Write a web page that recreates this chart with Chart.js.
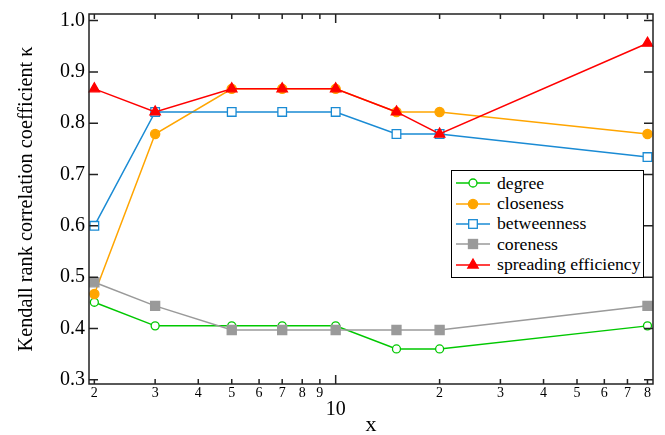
<!DOCTYPE html>
<html><head><meta charset="utf-8">
<script src="https://cdn.jsdelivr.net/npm/chart.js@4.4.0/dist/chart.umd.min.js"></script>
<style>
html,body{margin:0;padding:0;background:#fff;}
#wrap{position:relative;width:665px;height:435px;}
#legend{position:absolute;left:451px;top:170px;width:193px;height:108px;border:1px solid #000;background:#fff;box-sizing:border-box;font-family:'Liberation Serif';font-size:17.7px;color:#000;padding-top:2px;}
.row{height:20.4px;display:flex;align-items:center;white-space:nowrap;}
.row svg{margin-left:4px;margin-right:7px;flex:none;}
</style></head>
<body><div id="wrap"><canvas id="c" width="665" height="435"></canvas><div id="legend"></div></div>
<script>
const xValues = [2, 3, 5, 7, 10, 15, 20, 80];
const degree = [0.451, 0.405, 0.405, 0.405, 0.405, 0.36, 0.36, 0.405];
const closeness = [0.467, 0.779, 0.867, 0.867, 0.867, 0.822, 0.822, 0.779];
const betweenness = [0.6, 0.822, 0.822, 0.822, 0.822, 0.779, 0.779, 0.734];
const coreness = [0.49, 0.444, 0.397, 0.397, 0.397, 0.397, 0.397, 0.444];
const spreading = [0.867, 0.822, 0.867, 0.867, 0.867, 0.822, 0.779, 0.956];
const seriesNames = ['degree', 'closeness', 'betweenness', 'coreness', 'spreading efficiency'];
const xTicks = [2, 3, 4, 5, 6, 7, 8, 9, 10, 20, 30, 40, 50, 60, 70, 80];
const xTickLabels = ['2', '3', '4', '5', '6', '7', '8', '9', '10', '2', '3', '4', '5', '6', '7', '8'];
const yTicks = [0.3, 0.4, 0.5, 0.6, 0.7, 0.8, 0.9, 1.0];
const yTickLabels = ['0.3', '0.4', '0.5', '0.6', '0.7', '0.8', '0.9', '1.0'];

const FAM = "'Liberation Serif'";
const styles = [
  {color:'#00c800', pointStyle:'circle', radius:4, fill:'#ffffff', order:4},
  {color:'#ffa500', pointStyle:'circle', radius:4.6, fill:'#ffa500', order:3},
  {color:'#1a8bd4', pointStyle:'rect', radius:6.1, fill:'#ffffff', order:2},
  {color:'#9a9a9a', pointStyle:'rect', radius:6.4, fill:'#9a9a9a', order:1},
  {color:'#ff0000', pointStyle:'triangle', radius:6, fill:'#ff0000', order:0}
];
const allSeries = [degree, closeness, betweenness, coreness, spreading];

const datasets = allSeries.map((vals, k) => ({
  label: seriesNames[k],
  data: xValues.map((x, i) => ({x: x, y: vals[i]})),
  borderColor: styles[k].color,
  backgroundColor: styles[k].fill,
  pointBackgroundColor: styles[k].fill,
  pointBorderColor: styles[k].color,
  pointStyle: styles[k].pointStyle,
  pointRadius: styles[k].radius,
  pointBorderWidth: 1.3,
  borderWidth: 1.5,
  tension: 0,
  fill: false,
  clip: false,
  order: styles[k].order
}));

const framePlugin = {
  id: 'frame',
  afterDatasetsDraw(chart) {
    const {ctx, chartArea: a, scales: {x, y}} = chart;
    ctx.save();
    ctx.strokeStyle = '#222';
    ctx.lineWidth = 1.5;
    ctx.strokeRect(a.left, a.top, a.right - a.left, a.bottom - a.top);
    ctx.beginPath();
    x.ticks.forEach(t => {
      const px = x.getPixelForValue(t.value);
      const L = t.value === 10 ? 9 : 5;
      ctx.moveTo(px, a.bottom); ctx.lineTo(px, a.bottom - L);
      ctx.moveTo(px, a.top); ctx.lineTo(px, a.top + L);
    });
    y.ticks.forEach(t => {
      const py = y.getPixelForValue(t.value);
      ctx.moveTo(a.left, py); ctx.lineTo(a.left + 9, py);
      ctx.moveTo(a.right, py); ctx.lineTo(a.right - 9, py);
    });
    ctx.stroke();
    ctx.restore();
  }
};

const chart = new Chart(document.getElementById('c'), {
  type: 'line',
  data: {datasets: datasets},
  options: {
    responsive: false,
    animation: false,
    events: [],
    layout: {padding: {top: 10, right: 12, left: 0, bottom: 0}},
    plugins: {legend: {display: false}, tooltip: {enabled: false}},
    scales: {
      x: {
        type: 'logarithmic', min: 1.93, max: 83,
        afterBuildTicks: s => { s.ticks = xTicks.map(v => ({value: v})); },
        afterFit: s => { s.height = 51; },
        grid: {display: false, drawTicks: false},
        border: {display: false},
        ticks: {
          autoSkip: false, maxRotation: 0, minRotation: 0, padding: 2, color: '#000',
          font: c => (c.tick && c.tick.value === 10) ? {family: FAM, size: 20, lineHeight: 2.4} : {family: FAM, size: 14, lineHeight: 1.1},
          callback: (v, i) => xTickLabels[i]
        },
        title: {display: true, text: 'x', color: '#000', font: {family: FAM, size: 22, lineHeight: 0.9}, padding: 0}
      },
      y: {
        min: 0.2917, max: 1.0129,
        afterBuildTicks: s => { s.ticks = yTicks.map(v => ({value: v})); },
        afterFit: s => { s.width = 89; },
        grid: {display: false, drawTicks: false},
        border: {display: false},
        ticks: {padding: 4, color: '#000', font: {family: FAM, size: 20, lineHeight: 1}, callback: (v, i) => yTickLabels[i]},
        title: {display: true, text: 'Kendall rank correlation coefficient κ', color: '#000', font: {family: FAM, size: 20.3, lineHeight: 1.2}, padding: {top: 14, bottom: 0}}
      }
    }
  },
  plugins: [framePlugin]
});

// legend built from the chart's datasets
const legend = document.getElementById('legend');
chart.data.datasets.forEach((d, k) => {
  const st = styles[k];
  let marker = '';
  const cx = 17, cy = 8;
  if (st.pointStyle === 'circle') {
    marker = `<circle cx="${cx}" cy="${cy}" r="${st.radius}" fill="${st.fill}" stroke="${st.color}" stroke-width="1.3"/>`;
  } else if (st.pointStyle === 'rect') {
    const h = st.radius * Math.SQRT1_2;
    marker = `<rect x="${cx - h}" y="${cy - h}" width="${2 * h}" height="${2 * h}" fill="${st.fill}" stroke="${st.color}" stroke-width="1.3"/>`;
  } else {
    const r = st.radius;
    const p = [[cx, cy - r], [cx + r * Math.sin(2 * Math.PI / 3), cy + r / 2], [cx - r * Math.sin(2 * Math.PI / 3), cy + r / 2]];
    marker = `<polygon points="${p.map(q => q.join(',')).join(' ')}" fill="${st.fill}" stroke="${st.color}" stroke-width="1.3"/>`;
  }
  const row = document.createElement('div');
  row.className = 'row';
  row.innerHTML = `<svg width="34" height="16" viewBox="0 0 34 16"><line x1="0" y1="${cy}" x2="34" y2="${cy}" stroke="${st.color}" stroke-width="1.5"/>${marker}</svg><span>${d.label}</span>`;
  legend.appendChild(row);
});
</script>
</body></html>
